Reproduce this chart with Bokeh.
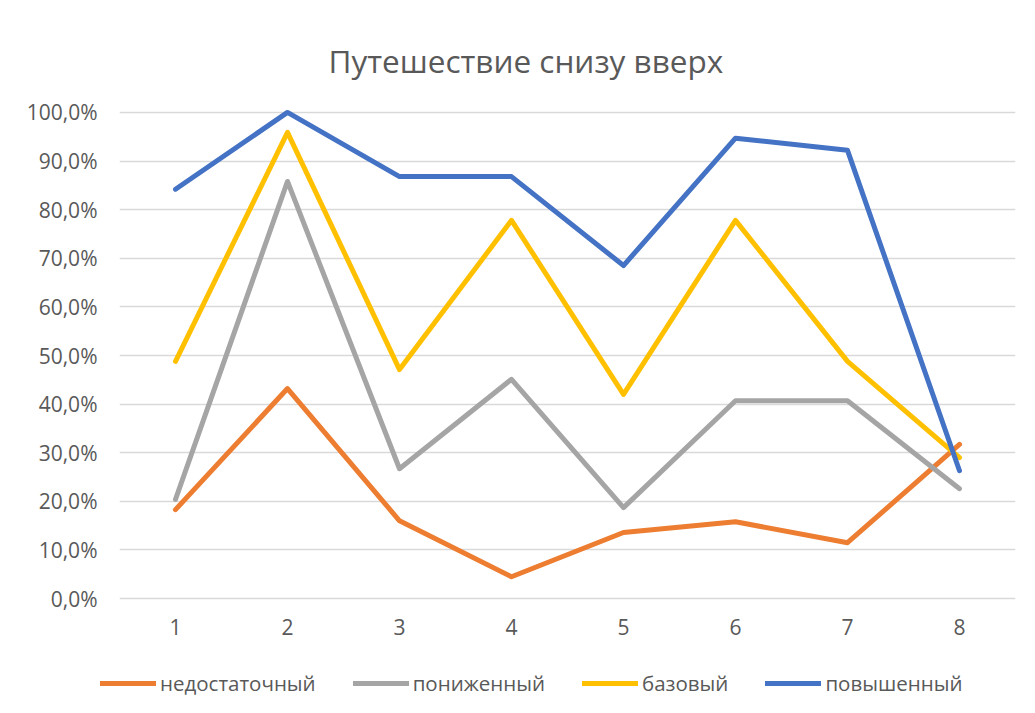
from bokeh.plotting import figure
from bokeh.layouts import column
from bokeh.models import (ColumnDataSource, Range1d, FixedTicker, CustomJSTickFormatter,
                          Legend, LegendItem)
from bokeh.core.properties import value
from bokeh.embed import file_html
from bokeh.resources import INLINE

# ---- data ----
tasks = [1, 2, 3, 4, 5, 6, 7, 8]
nedostatochny = [0.183, 0.432, 0.160, 0.045, 0.136, 0.158, 0.115, 0.317]
ponizhenny = [0.204, 0.858, 0.267, 0.451, 0.187, 0.407, 0.407, 0.226]
bazovy = [0.488, 0.959, 0.471, 0.778, 0.420, 0.778, 0.488, 0.290]
povyshenny = [0.842, 1.000, 0.868, 0.868, 0.685, 0.947, 0.922, 0.263]
series_names = ["недостаточный", "пониженный", "базовый", "повышенный"]
series_colors = ["#ED7D31", "#A5A5A5", "#FFC000", "#4472C4"]
y_ticks = [0.0, 0.1, 0.2, 0.3, 0.4, 0.5, 0.6, 0.7, 0.8, 0.9, 1.0]
title_text = "Путешествие снизу вверх"

FONT = "Open Sans"
TXT = "#595959"
LW = 5

src = ColumnDataSource(dict(x=tasks, s0=nedostatochny, s1=ponizhenny, s2=bazovy, s3=povyshenny))
cols = ["s0", "s1", "s2", "s3"]

# ---- main chart ----
p = figure(width=1027, height=655, output_backend="svg", toolbar_location=None,
           x_range=Range1d(0.5, 8.5), y_range=Range1d(-0.006, 1.006),
           min_border_left=119, min_border_right=12, min_border_top=109, min_border_bottom=54,
           title=title_text)
p.frame_align = False
p.outline_line_color = None
p.background_fill_color = "white"
p.border_fill_color = "white"

p.title.align = "left"
p.title.offset = 209
p.title.standoff = 55
p.title.text_font = FONT
p.title.text_font_size = "31.5px"
p.title.text_font_style = "normal"
p.title.text_color = TXT

p.yaxis.ticker = FixedTicker(ticks=y_ticks)
p.yaxis.formatter = CustomJSTickFormatter(code="return (tick*100).toFixed(1).replace('.', ',') + '%';")
p.xaxis.ticker = FixedTicker(ticks=tasks)
for ax in (p.xaxis, p.yaxis):
    ax.axis_line_color = None
    ax.major_tick_line_color = None
    ax.minor_tick_line_color = None
    ax.major_tick_out = 0
    ax.major_tick_in = 0
    ax.major_label_text_font = FONT
    ax.major_label_text_font_size = "21px"
    ax.major_label_text_color = TXT
p.yaxis.major_label_standoff = 22
p.xaxis.major_label_standoff = 17

p.xgrid.grid_line_color = None
p.ygrid.grid_line_color = "#D9D9D9"
p.ygrid.grid_line_width = 1.3

for c, col in zip(cols, series_colors):
    p.line("x", c, source=src, line_color=col, line_width=LW,
           line_join="round", line_cap="round")

# ---- legend strip (separate figure so the legend is not clipped by the chart frame) ----
q = figure(width=1027, height=50, output_backend="svg", toolbar_location=None,
           x_axis_type=None, y_axis_type=None,
           x_range=Range1d(0.5, 8.5), y_range=Range1d(10, 11),
           min_border=0, min_border_left=0, min_border_right=0, min_border_top=0, min_border_bottom=0)
q.frame_align = False
q.outline_line_color = None
q.xgrid.grid_line_color = None
q.ygrid.grid_line_color = None
q.background_fill_color = "white"
q.border_fill_color = "white"

leg_renderers = []
for c, col in zip(cols, series_colors):
    r = q.line("x", c, source=src, line_color=col, line_width=LW,
               line_join="round", line_cap="round")
    leg_renderers.append(r)

legend = Legend(items=[LegendItem(label=n, renderers=[r]) for n, r in zip(series_names, leg_renderers)],
                orientation="horizontal", location=(100, 8),
                glyph_width=56, glyph_height=20, label_standoff=4, spacing=37,
                padding=0, margin=0, border_line_color=None, background_fill_alpha=0,
                label_text_font=FONT, label_text_font_size="20.5px", label_text_color=TXT,
                label_height=20)
q.add_layout(legend)

layout = column(p, q, spacing=0)
open("out.html", "w").write(file_html(layout, INLINE))
